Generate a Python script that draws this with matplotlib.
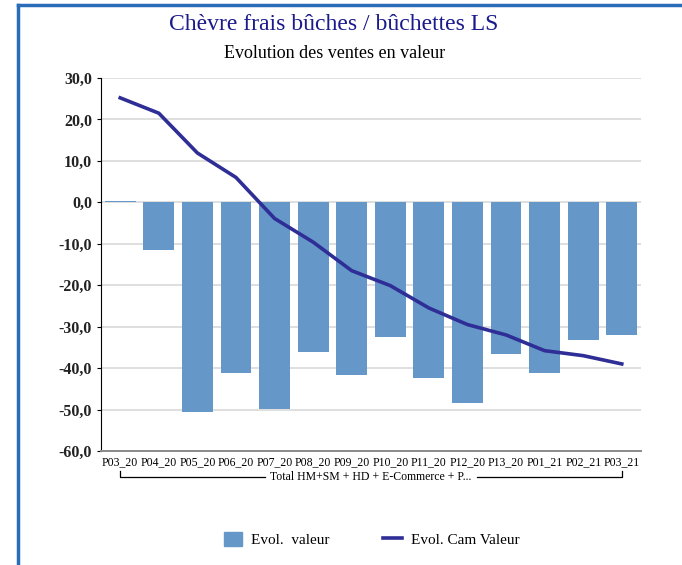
import numpy as np
import matplotlib.pyplot as plt
from matplotlib.lines import Line2D
from matplotlib.patches import Patch

## data
periods = ['P03_20', 'P04_20', 'P05_20', 'P06_20', 'P07_20', 'P08_20', 'P09_20',
           'P10_20', 'P11_20', 'P12_20', 'P13_20', 'P01_21', 'P02_21', 'P03_21']
evol_valeur = [0.4, -11.5, -50.6, -41.1, -49.9, -36.0, -41.6,
               -32.4, -42.3, -48.4, -36.7, -41.1, -33.2, -32.0]
evol_cam = [25.2, 21.5, 11.9, 6.0, -3.9, -9.6, -16.5,
            -20.1, -25.5, -29.5, -32.0, -35.8, -37.0, -39.0]
yticks = [30, 20, 10, 0, -10, -20, -30, -40, -50, -60]
group_label = 'Total HM+SM + HD + E-Commerce + P...'

bar_color = '#6598C9'
line_color = '#2E2E96'
plt.rcParams['font.family'] = ['Liberation Serif', 'DejaVu Serif']

fig = plt.figure(figsize=(6.82, 5.65), dpi=100)
ax = fig.add_axes([0.148, 0.2018, 0.792, 0.6602])

x = np.arange(len(periods))
ax.bar(x, evol_valeur, width=0.8, color=bar_color, zorder=2)
ax.plot(x, evol_cam, color=line_color, linewidth=2.6, zorder=3)

ax.set_xlim(-0.5, len(periods) - 0.5)
ax.set_ylim(-60, 30)
ax.set_yticks(yticks)
ax.yaxis.set_major_formatter(plt.FuncFormatter(lambda v, p: ('%.1f' % v).replace('.', ',')))
for lab in ax.get_yticklabels():
    lab.set_fontsize(11.5)
    lab.set_fontweight('bold')
    lab.set_color('#222222')
ax.grid(axis='y', color='#d9d9d9', linewidth=1.2, zorder=0)
ax.tick_params(axis='y', length=3, width=0.8, labelsize=11.5)
ax.set_xticks(x)
ax.set_xticklabels(periods, fontsize=8.5)
ax.tick_params(axis='x', length=0, pad=4)
for s in ['top', 'right']:
    ax.spines[s].set_visible(False)
ax.spines['left'].set_color('black')
ax.spines['bottom'].set_color('#8a8a8a')
ax.spines['bottom'].set_linewidth(1.4)

# group bracket under the category labels, split around its label
tr = ax.get_xaxis_transform()
yb, yt = -0.07, -0.054
ax.plot([0, 0, 3.75], [yt, yb, yb], transform=tr, color='black', lw=0.9, clip_on=False)
ax.plot([9.25, 13, 13], [yb, yb, yt], transform=tr, color='black', lw=0.9, clip_on=False)
ax.text(6.5, yb, group_label, transform=tr, ha='center', va='center', fontsize=8.5,
        clip_on=False)

# titles
fig.text(0.49, 0.957, 'Chèvre frais bûches / bûchettes LS', ha='center', va='center',
         fontsize=17, color='#1a1a8c')
fig.text(0.49, 0.905, 'Evolution des ventes en valeur', ha='center', va='center',
         fontsize=13, color='black')

# legend
handles = [Patch(color=bar_color, label='Evol.  valeur'),
           Line2D([0], [0], color=line_color, lw=2.6, label='Evol. Cam Valeur')]
fig.legend(handles=handles, loc='center', bbox_to_anchor=(0.545, 0.045), ncol=2,
           frameon=False, fontsize=11, handlelength=1.2, handleheight=1.0,
           columnspacing=3.5, handletextpad=0.6)

# blue frame of the original screenshot
fig.add_artist(Line2D([18 / 682, 1], [1 - 5 / 565, 1 - 5 / 565], color='#2B6CB8', lw=2.5,
                      transform=fig.transFigure))
fig.add_artist(Line2D([18 / 682, 18 / 682], [0, 1 - 5 / 565], color='#2B6CB8', lw=2.5,
                      transform=fig.transFigure))

fig.savefig('out.png', dpi=100)
